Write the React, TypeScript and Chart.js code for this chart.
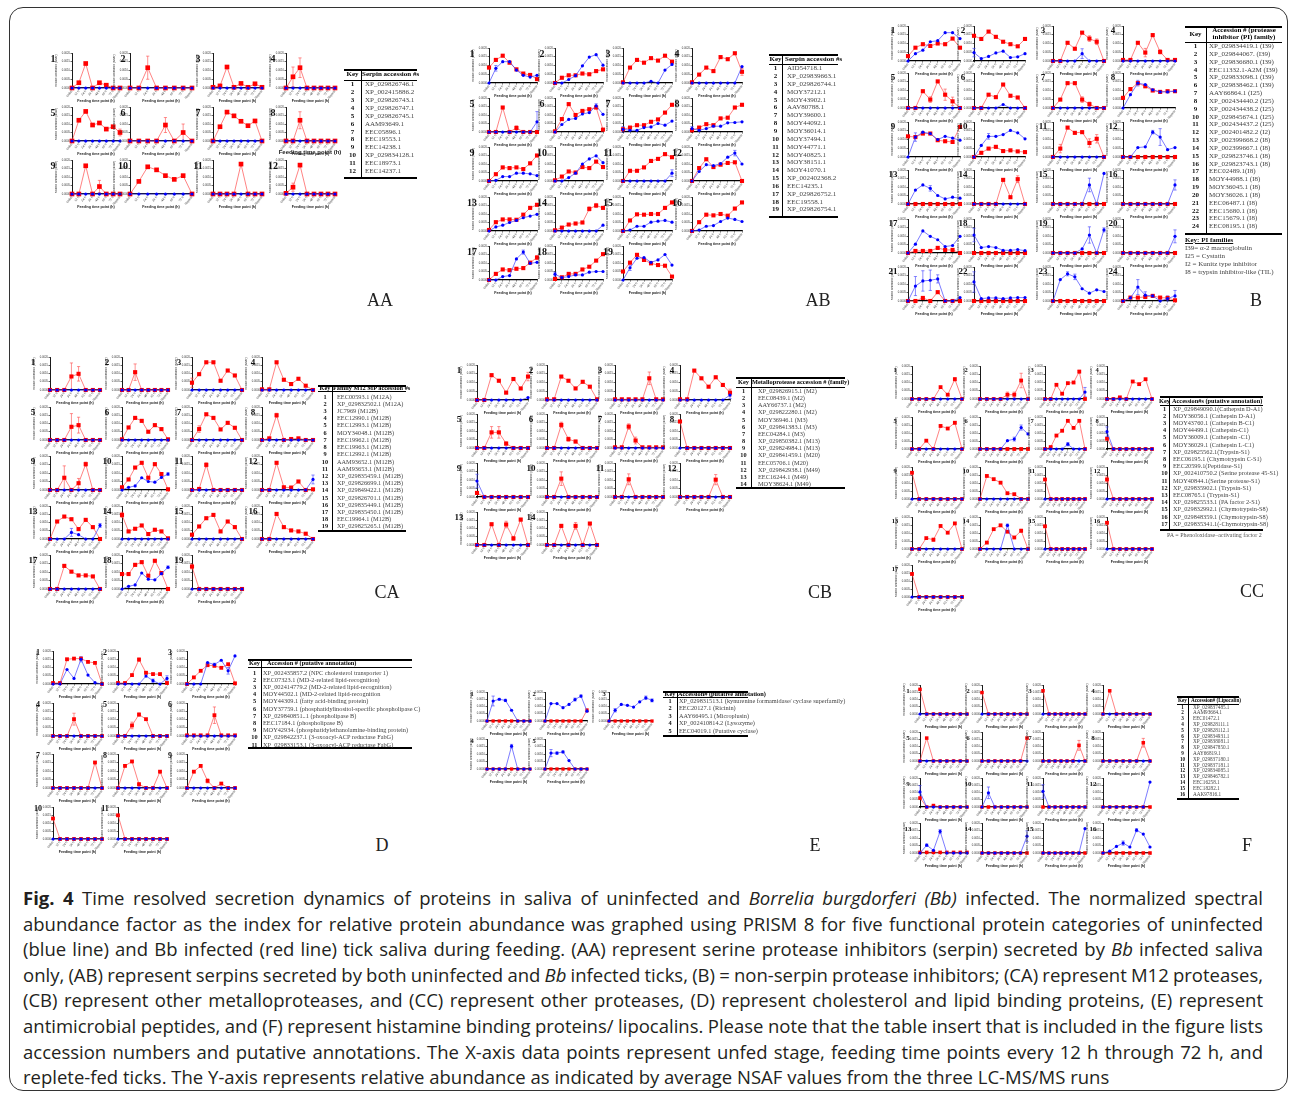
import React, { useEffect, useLayoutEffect, useRef } from "react";
import { Chart, registerables } from "chart.js";
Chart.register(...registerables);

// ---------- shared labels ----------
const TIME_LABELS = ["Unfed", "12 h", "24 h", "36 h", "48 h", "60 h", "72 h", "Replete"];
const Y_TICK_LABELS = ["0.0000", "0.0005", "0.0010", "0.0015", "0.0020"];
const X_TITLE = "Feeding time point (h)";
const Y_TITLE = "Relative abundance (NSAF)";
const Z8 = [0, 0, 0, 0, 0, 0, 0, 0];

// ---------- AA: serpins, Bb infected only ----------
const AA_RED = [
  [0, 1.5, 7.0, 0, 1.5, 0.8, 0, 0],
  [0, 0, 5.8, 0, 0, 0, 0, 0],
  [0.2, 0.6, 6.0, 0.2, 1.3, 0.2, 1.2, 0.2],
  [0, 3.2, 5.8, 0, 0, 0, 0, 0],
  [0, 6.1, 8.7, 4.7, 5.3, 3.5, 4.2, 2.5],
  [0, 0, 0, 0, 4.7, 0, 2.5, 0],
  [0, 4.2, 8.5, 7.4, 5.8, 4.5, 5.9, 0],
  [0, 0, 6.1, 0, 0, 0, 0, 0],
  [0, 0, 8.3, 0, 2.2, 0, 0, 0],
  [0, 3.7, 8.0, 7.1, 5.4, 4.3, 5.4, 0],
  [0, 0, 0, 0, 8.8, 0, 0, 0],
  [0.2, 2.0, 8.5, 0, 0, 0, 0, 0],
];
const AA_BLUE = [Z8, Z8, Z8, Z8, Z8, Z8, Z8, Z8, Z8, Z8, Z8, Z8];
const AA_ERR = [[0, "r", 1, 0.4], [1, "r", 2, 3.3], [3, "r", 1, 2.8], [3, "r", 2, 2.8], [4, "r", 7, 1.0], [5, "r", 4, 2.2], [5, "r", 6, 2.5], [7, "r", 2, 2.5], [8, "r", 4, 1.8], [11, "r", 1, 1.2]];
const AA_ACC = ["XP_029826746.1", "XP_002415886.2", "XP_029826743.1", "XP_029826747.1", "XP_029826745.1", "AAM93649.1", "EEC05896.1", "EEC19553.1", "EEC14238.1", "XP_029834128.1", "EEC18973.1", "EEC14237.1"];

// ---------- AB: serpins, both ----------
const AB_RED = [
  [4.4, 6.6, 7.8, 5.8, 3.9, 2.7, 2.3, 1.1],
  [0, 1.5, 2.2, 2.2, 2.7, 2.5, 3.4, 3.9],
  [0.2, 4.4, 6.6, 5.8, 7.1, 6.4, 7.8, 6.1],
  [0.2, 2.4, 4.4, 3.4, 7.4, 6.8, 8.5, 3.2],
  [0, 0, 7.2, 0, 1.2, 0, 0, 0],
  [0.2, 3.8, 8.2, 5.0, 6.2, 6.7, 7.2, 0.7],
  [0.8, 1.3, 2.0, 2.0, 3.0, 3.7, 5.7, 8.0],
  [0.5, 1.3, 2.3, 2.0, 4.0, 4.2, 7.2, 8.0],
  [0, 2.0, 4.0, 3.8, 4.0, 3.5, 5.2, 7.5],
  [0.2, 1.3, 2.8, 2.5, 4.1, 3.8, 5.7, 4.1],
  [0, 3.0, 3.0, 4.0, 5.9, 6.5, 7.9, 7.0],
  [0, 3.8, 6.4, 4.1, 4.8, 5.3, 5.5, 0],
  [0.3, 2.6, 3.4, 3.4, 3.3, 4.8, 6.8, 7.7],
  [0.2, 1.0, 1.9, 2.2, 2.5, 6.5, 7.5, 6.8],
  [0, 3.1, 4.9, 4.8, 5.0, 5.0, 6.8, 8.4],
  [0, 2.6, 4.8, 4.6, 5.0, 4.5, 6.6, 8.4],
  [0, 1.8, 3.1, 2.9, 3.3, 3.5, 5.1, 6.6],
  [0.3, 0.8, 1.8, 1.8, 3.1, 3.9, 5.7, 7.6],
  [2.5, 5.1, 7.4, 5.9, 4.9, 4.4, 4.2, 1.0],
];
const AB_BLUE = [
  [0, 4.2, 6.1, 6.1, 3.7, 2.2, 1.7, 2.2],
  [0, 0, 1.0, 2.1, 4.9, 7.4, 8.1, 5.1],
  [0, 0, 0, 0, 0.5, 0, 3.7, 5.3],
  [0, 0, 0, 0, 0, 0, 0, 4.7],
  [0, 0, 0, 0, 0, 0, 0, 3.0],
  [0, 2.2, 3.7, 4.0, 5.3, 5.7, 7.7, 5.2],
  [0.8, 0.5, 0.5, 1.3, 1.5, 2.5, 2.0, 3.2],
  [1.0, 0.5, 1.0, 1.7, 1.7, 2.7, 2.8, 3.0],
  [0, 0.2, 1.3, 1.3, 2.3, 2.3, 2.1, 1.6],
  [0, 0, 1.0, 2.3, 5.0, 6.5, 7.4, 5.4],
  [0, 0, 0, 0, 0, 0, 0, 2.3],
  [0, 2.8, 4.8, 4.5, 5.1, 7.0, 8.2, 5.0],
  [0, 1.2, 1.7, 2.5, 3.1, 3.9, 4.4, 4.9],
  [0, 0, 0, 0, 0, 0, 0, 1.7],
  [0, 0.3, 1.4, 1.4, 2.6, 2.9, 3.1, 2.6],
  [0, 0.3, 1.4, 1.6, 2.8, 3.8, 3.4, 2.8],
  [0, 0, 1.0, 1.3, 6.2, 8.2, 4.9, 5.2],
  [1.7, 0.7, 1.0, 1.5, 1.5, 2.3, 2.5, 2.5],
  [0, 3.6, 6.4, 6.6, 5.2, 5.9, 7.5, 4.4],
];
const AB_ERR = [[0, "b", 1, 0.8], [3, "r", 7, 1.0], [4, "b", 7, 3.0], [4, "r", 4, 0.6], [5, "b", 6, 0.6], [6, "b", 0, 0.8], [7, "b", 0, 0.6], [10, "b", 7, 1.0], [11, "b", 6, 0.8], [13, "r", 5, 0.6], [13, "r", 6, 0.6], [16, "b", 5, 0.6], [16, "r", 7, 0.6], [17, "b", 0, 0.6], [18, "b", 1, 0.8]];
const AB_ACC = ["AID54718.1", "XP_029839663.1", "XP_029826744.1", "MOY37212.1", "MOY43902.1", "AAV80788.1", "MOY39600.1", "MOY44092.1", "MOY36014.1", "MOY37494.1", "MOY44771.1", "MOY40825.1", "MOY38151.1", "MOY41070.1", "XP_002402368.2", "EEC14235.1", "XP_029826752.1", "EEC19558.1", "XP_029826754.1"];

// ---------- B: non-serpin protease inhibitors ----------
const B_RED = [
  [1.4, 3.8, 4.8, 4.3, 5.0, 4.8, 6.4, 3.8],
  [7.2, 6.3, 8.4, 6.9, 5.5, 4.8, 4.2, 6.3],
  [0, 0, 5.2, 3.5, 8.1, 6.4, 5.5, 0],
  [0.3, 0.3, 5.2, 2.4, 7.4, 2.6, 0.3, 0.3],
  [0, 0, 4.8, 2.4, 7.6, 3.8, 1.9, 0],
  [0, 0, 3.8, 3.1, 6.7, 3.5, 3.0, 0],
  [0, 2.4, 7.1, 7.1, 2.4, 1.1, 0, 0],
  [2.9, 5.4, 7.1, 6.2, 5.0, 4.6, 4.8, 4.8],
  [5.9, 5.7, 6.7, 6.7, 4.8, 4.5, 4.3, 8.6],
  [0, 1.2, 2.4, 2.9, 1.7, 1.9, 1.6, 1.4],
  [0, 2.4, 8.4, 6.9, 7.1, 4.0, 5.2, 0],
  Z8,
  Z8,
  [0, 0, 0, 0, 7.1, 2.0, 7.3, 0],
  Z8,
  Z8,
  [0, 0.6, 0.6, 0.6, 1.5, 0.9, 0.9, 0],
  Z8,
  Z8,
  Z8,
  [0, 0, 0.9, 0, 2.6, 0, 0, 0],
  Z8,
  Z8,
  [0, 1.0, 1.0, 1.2, 1.5, 1.0, 0.9, 0.2],
];
const B_BLUE = [
  [0, 2.1, 3.1, 5.5, 5.8, 8.1, 8.1, 6.4],
  [2.4, 0.7, 1.3, 2.3, 2.8, 1.0, 1.2, 2.1],
  [0, 0, 0, 0, 2.1, 0, 0, 0],
  Z8,
  Z8,
  [0, 0, 0, 0, 1.0, 0, 0, 0],
  Z8,
  [0, 3.8, 7.1, 6.7, 5.2, 4.6, 4.6, 4.8],
  [0, 5.7, 7.1, 6.7, 5.0, 5.9, 5.4, 4.8],
  [0, 3.3, 5.9, 5.9, 6.4, 7.6, 6.9, 5.2],
  Z8,
  [0, 0, 2.7, 2.9, 7.1, 5.7, 2.1, 2.7],
  [0, 4.1, 5.6, 4.6, 2.5, 1.5, 2.0, 1.7],
  Z8,
  [0, 0, 0, 0, 0, 5.6, 0, 9.0],
  [0, 0, 0, 0, 0, 0, 0, 5.6],
  [0, 2.6, 6.5, 4.9, 3.9, 1.9, 2.2, 4.9],
  [5.3, 1.6, 1.9, 1.6, 0.8, 0.8, 1.0, 0.7],
  [0, 0, 0, 0, 1.2, 5.3, 0, 6.8],
  [0, 0, 0, 0, 0, 0, 0, 4.9],
  [0, 4.4, 5.9, 6.1, 6.5, 0, 0, 1.0],
  [5.6, 0.7, 0.9, 0.9, 0.7, 0.9, 1.0, 1.0],
  [0, 6.3, 8.0, 7.1, 3.6, 2.3, 3.3, 2.8],
  [0, 0.9, 4.1, 1.7, 1.5, 0, 0.7, 1.5],
];
const B_ERR = [[1, "b", 0, 1.2], [2, "b", 4, 1.4], [2, "r", 5, 0.8], [2, "r", 6, 0.8], [3, "r", 3, 1.2], [3, "r", 5, 0.6], [4, "r", 3, 0.8], [4, "r", 5, 1.6], [4, "r", 6, 1.2], [6, "r", 4, 0.8], [6, "r", 5, 0.6], [7, "b", 2, 0.8], [8, "b", 1, 1.2], [9, "b", 2, 0.8], [10, "r", 1, 1.2], [10, "r", 5, 1.2], [10, "r", 6, 1.2], [11, "b", 4, 0.5], [11, "b", 5, 2.4], [12, "b", 3, 0.8], [13, "r", 6, 1.0], [14, "b", 5, 2.0], [15, "b", 7, 1.5], [17, "b", 0, 2.0], [18, "b", 5, 2.4], [18, "b", 7, 0.6], [19, "b", 7, 1.9], [20, "b", 1, 2.8], [20, "b", 2, 3.0], [20, "b", 3, 3.0], [20, "b", 4, 1.2], [21, "b", 0, 3.0], [22, "b", 2, 0.6], [22, "b", 3, 0.8], [23, "b", 2, 2.2], [23, "b", 3, 1.0], [23, "b", 6, 0.8], [23, "b", 7, 1.6]];
const B_ACC = ["XP_029834419.1 (I39)", "XP_029844067. (I39)", "XP_029836680.1 (I39)", "EEC11332.1-A2M (I39)", "XP_029833098.1 (I39)", "XP_029838462.1 (I39)", "AAY66864.1 (I25)", "XP_002434440.2 (I25)", "XP_002434438.2 (I25)", "XP_029845674.1 (I25)", "XP_002434437.2 (I25)", "XP_002401482.2 (I2)", "XP_002399668.2 (I8)", "XP_002399667.1 (I8)", "XP_029823746.1 (I8)", "XP_029823743.1 (I8)", "EEC02489.1(I8)", "MOY44988.1 (I8)", "MOY36045.1 (I8)", "MOY36026.1 (I8)", "EEC06487.1 (I8)", "EEC15680.1 (I8)", "EEC15679.1 (I8)", "EEC08195.1 (I8)"];
const B_FAMILIES = ["I39= α-2 macroglobulin", "I25 = Cystatin", "I2 = Kunitz type inhibitor", "I8 = trypsin inhibitor-like (TIL)"];

// ---------- CA: M12 proteases ----------
const CA_RED = [
  [0, 0, 0, 4.1, 4.9, 0, 0, 0],
  [0, 0, 5.4, 0, 0, 0, 0, 0],
  [2.2, 4.8, 8.4, 8.4, 2.8, 5.9, 4.4, 0],
  [0.2, 0.2, 8.4, 3.1, 1.8, 3.4, 1.3, 0],
  [0, 0, 0, 4.0, 4.5, 0, 0, 0],
  [0.2, 3.8, 6.7, 5.8, 2.5, 4.5, 3.3, 0.2],
  [0, 3.3, 7.8, 6.7, 3.2, 5.2, 3.7, 0],
  [0, 0.5, 7.5, 0, 0.3, 0.5, 0, 0],
  [0, 0, 3.6, 0, 2.0, 7.6, 0, 0],
  [0.8, 3.1, 6.6, 8.0, 3.6, 7.6, 4.7, 0.2],
  [0, 0.3, 7.4, 0, 0, 0, 0, 0],
  [0, 0, 8.0, 0.8, 0.7, 2.5, 0, 0.2],
  [0, 5.3, 6.8, 6.0, 3.0, 5.8, 3.6, 0],
  [7.3, 2.3, 3.1, 4.1, 1.5, 2.8, 2.3, 0.2],
  [1.3, 3.8, 6.3, 7.3, 2.3, 5.3, 3.6, 0],
  [0, 0, 7.6, 3.6, 2.6, 2.3, 1.6, 0],
  [0, 0, 6.8, 5.1, 4.0, 4.0, 3.7, 0],
  [4.4, 4.4, 7.1, 7.9, 3.9, 8.3, 4.7, 0],
  [6.6, 0, 0, 0, 0, 0, 0, 0],
];
const CA_BLUE = [
  Z8, Z8, Z8, Z8, Z8, Z8, Z8, Z8, Z8,
  [0, 0.8, 1.2, 3.6, 2.5, 2.3, 3.7, 4.7],
  Z8,
  [0, 0, 0, 0, 0, 0, 0, 3.1],
  [0, 0, 0, 2.0, 1.3, 0, 0, 4.1],
  Z8, Z8, Z8, Z8,
  [0, 0.8, 1.2, 4.7, 2.9, 2.7, 4.5, 6.4],
  Z8,
];
const CA_ERR = [[0, "r", 3, 4.1], [0, "r", 4, 2.2], [1, "r", 2, 2.5], [2, "r", 0, 1.4], [4, "r", 3, 4.0], [4, "r", 4, 2.4], [6, "r", 1, 1.0], [7, "r", 2, 0.6], [8, "r", 2, 3.5], [8, "r", 4, 1.4], [8, "r", 5, 0.6], [9, "b", 7, 0.4], [10, "r", 2, 0.6], [11, "b", 7, 1.3], [11, "r", 4, 0.4], [12, "b", 3, 1.2], [12, "b", 7, 0.6], [13, "r", 0, 0.8], [17, "b", 7, 0.4], [18, "r", 0, 0.7]];
const CA_ACC = ["EEC00593.1 (M12A)", "XP_029832502.1 (M12A)", "JC7969 (M12B)", "EEC12990.1 (M12B)", "EEC12993.1 (M12B)", "MOY34048.1 (M12B)", "EEC19962.1 (M12B)", "EEC19963.1 (M12B)", "EEC12992.1 (M12B)", "AAM93652.1 (M12B)", "AAM93653.1 (M12B)", "XP_029835459.1 (M12B)", "XP_029826699.1 (M12B)", "XP_029849422.1 (M12B)", "XP_029826701.1 (M12B)", "XP_029835449.1 (M12B)", "XP_029835450.1 (M12B)", "EEC19964.1 (M12B)", "XP_029825265.1 (M12B)"];

// ---------- CB: other metalloproteases ----------
const CB_RED = [
  [0, 0, 7.1, 5.5, 2.1, 6.0, 3.3, 6.7],
  [0.2, 0.2, 6.7, 5.5, 3.3, 5.2, 3.8, 0.2],
  [0.2, 0.2, 0.2, 0.2, 0.2, 6.2, 0.2, 0.2],
  [0.2, 0.2, 8.4, 6.2, 3.8, 6.5, 4.3, 2.1],
  [0, 0, 4.6, 4.6, 1.3, 0, 0, 0],
  [0, 0, 6.8, 2.6, 1.9, 0, 0, 0],
  [0.2, 0.2, 6.3, 2.2, 0.2, 0.2, 0.2, 0.2],
  [7.8, 0, 0, 0, 0, 0, 0, 0],
  [1.2, 0, 0, 0, 0, 0, 0, 0],
  [0, 0, 5.4, 0, 0, 0, 0, 0],
  [0, 0, 5.2, 0, 0, 0, 0, 0],
  [0, 0, 0, 0, 0, 5.1, 0, 0],
  [0, 0, 6.3, 0, 6.2, 2.0, 7.7, 0],
  [0, 0, 5.8, 0, 5.8, 0, 6.5, 0],
];
const CB_BLUE = [
  [0, 0, 0, 0, 0, 0, 0, 0.7],
  Z8, Z8,
  [0, 0, 0, 0, 0, 0, 0, 1.4],
  Z8, Z8, Z8, Z8,
  [4.7, 0, 0, 0, 0, 0, 0, 0],
  Z8, Z8, Z8, Z8, Z8,
];
const CB_ERR = [[0, "r", 7, 1.2], [2, "r", 5, 1.8], [3, "r", 7, 1.0], [3, "b", 7, 1.0], [4, "r", 2, 1.7], [4, "r", 3, 1.7], [4, "r", 4, 0.5], [5, "r", 2, 0.8], [5, "r", 3, 0.6], [5, "r", 4, 0.4], [6, "r", 2, 0.8], [6, "r", 3, 1.0], [8, "b", 0, 2.0], [9, "r", 2, 2.0], [10, "r", 2, 1.6], [11, "r", 5, 1.5], [12, "r", 4, 1.0], [12, "r", 5, 0.6], [12, "r", 6, 0.4], [13, "r", 4, 1.0], [13, "r", 6, 0.3]];
const CB_ACC = ["XP_029826915.1 (M2)", "EEC08439.1 (M2)", "AAY66737.1 (M2)", "XP_029822280.1 (M2)", "MOY36946.1 (M3)", "XP_029841383.1 (M3)", "EEC04284.1 (M3)", "XP_029850382.1 (M13)", "XP_029824984.1 (M13)", "XP_029841459.1 (M20)", "EEC05706.1 (M20)", "XP_029842938.1 (M49)", "EEC16244.1 (M49)", "MOY38624.1 (M49)"];

// ---------- CC: other proteases ----------
const CC_RED = [
  [0, 0, 0, 0, 3.6, 1.3, 6.0, 0],
  [0, 0, 0, 0, 1.3, 1.3, 5.6, 0],
  [0, 0, 4.3, 1.6, 4.8, 5.0, 8.3, 0],
  [0, 0, 0.5, 0, 5.3, 4.5, 6.0, 0],
  [0, 0, 2.6, 0, 7.2, 6.4, 8.2, 0],
  Z8,
  [0, 0.6, 4.2, 5.7, 8.8, 6.6, 8.8, 0],
  [3.2, 0, 0, 0, 0, 0, 0, 0],
  [8.2, 0, 0, 0, 0, 0, 0, 0],
  [0, 7.2, 6.2, 5.1, 1.8, 1.5, 0, 0],
  [6.1, 0, 0, 0, 0, 0, 0, 0],
  [6.1, 0, 0, 0, 0, 0, 0, 0],
  [0, 0, 3.4, 2.9, 7.2, 5.1, 8.0, 0],
  [0, 2.0, 6.2, 7.4, 5.4, 3.6, 5.7, 0],
  [7.1, 0, 0, 0, 0, 0, 0, 0],
  [8.2, 0, 0, 0, 0, 0, 0, 0],
  [7.2, 0, 0, 0, 0, 0, 0, 0],
];
const CC_BLUE = [
  Z8, Z8,
  [0, 0, 0, 0, 0, 0, 0, 2.1],
  Z8, Z8,
  [0, 0, 0, 0, 2.6, 3.1, 6.7, 4.7],
  [0, 0, 0, 0, 1.5, 0, 0, 0],
  [5.4, 0, 0, 0, 0, 0, 0, 0],
  Z8, Z8, Z8, Z8, Z8,
  [0, 0, 0, 0, 7.4, 0, 0, 0],
  Z8, Z8, Z8,
];
const CC_ERR = [[0, "r", 6, 0.5], [1, "r", 4, 0.8], [1, "r", 5, 0.8], [1, "r", 6, 2.2], [2, "b", 7, 1.4], [2, "r", 6, 0.4], [4, "r", 6, 0.4], [5, "b", 5, 0.6], [5, "b", 6, 0.8], [6, "b", 4, 0.5], [7, "b", 0, 1.5], [11, "r", 0, 0.8], [12, "r", 3, 0.5], [13, "b", 4, 0.4], [13, "r", 6, 0.5]];
const CC_ACC = ["XP_029849090.1(Cathepsin D-A1)", "MOY36056.1 (Cathepsin  D-A1)", "MOY43760.1 (Cathepsin B-C1)", "MOY44499.1 (Cathepsin-C1)", "MOY36009.1 (Cathepsin -C1)", "MOY36029.1 (Cathepsin L-C1)", "XP_029825562.1(Trypsin-S1)", "EEC06195.1 (Chymotrypsin C-S1)", "EEC20599.1(Peptidase-S1)", "XP_002410750.2 (Serine protease 45-S1)", "MOY40844.1(Serine protease-S1)", "XP_029835902.1 (Trypsin-S1)", "EEC08765.1 (Trypsin-S1)", "XP_029825533.1 (PA factor 2-S1)", "XP_029832992.1 (Chymotrypsin-S8)", "XP_029848359.1 (Chymotrypsin-S8)", "XP_029835341.1(-Chymotrypsin-S8)"];

// ---------- D: cholesterol / lipid binding ----------
const D_RED = [
  [0.3, 0.3, 7.5, 7.7, 7.7, 6.7, 6.4, 0],
  [0.3, 0.3, 2.7, 7.4, 3.4, 3.0, 3.0, 0.3],
  [0, 2.0, 4.0, 5.7, 5.5, 4.9, 6.0, 0.2],
  [0, 0, 0, 5.1, 0, 0, 0, 0],
  [0, 0, 3.2, 6.5, 5.1, 0, 0, 0],
  [0.2, 0.2, 0.2, 0.2, 6.3, 0.2, 0.2, 0.2],
  [0, 0, 0, 0, 0, 0, 7.5, 0],
  [0, 6.5, 7.8, 1.1, 0, 0, 4.8, 0],
  [0, 4.8, 6.5, 2.1, 0, 1.3, 0, 0],
  [6.4, 0, 0, 0, 0, 0, 0, 0],
  [7.4, 0, 0, 0, 0, 0, 0, 0],
];
const D_BLUE = [
  [0, 0, 4.4, 1.7, 7.5, 2.7, 0.4, 0],
  [0, 0, 0, 0, 2.4, 1.0, 0, 1.7],
  [0, 0, 0, 6.5, 5.9, 7.2, 4.0, 8.5],
  Z8, Z8, Z8, Z8, Z8, Z8, Z8, Z8,
];
const D_ERR = [[0, "b", 4, 0.8], [1, "r", 3, 0.5], [1, "r", 4, 0.4], [1, "b", 5, 0.5], [1, "b", 7, 0.8], [2, "b", 4, 0.4], [2, "b", 6, 1.0], [3, "r", 3, 1.8], [4, "r", 2, 1.0], [4, "r", 3, 0.5], [5, "r", 4, 2.5], [7, "r", 3, 0.5], [8, "r", 3, 0.6]];
const D_ACC = ["XP_002435857.2 (NPC cholesterol transporter 1)", "EEC07323.1 (MD-2-related lipid-recognition)", "XP_002414779.2 (MD-2-related lipid-recognition)", "MOY44502.1 (MD-2-related lipid-recognition", "MOY44309.1 (fatty acid-binding protein)", "MOY37759.1 (phosphatidylinositol-specific phospholipase C)", "XP_029840851..1 (phospholipase B)", "EEC17184.1 (phospholipase B)", "MOY42934. (phosphatidylethanolamine-binding protein)", "XP_029842237.1 (3-oxoacyl-ACP reductase FabG)", "XP_029833153.1 (3-oxoacyl-ACP reductase FabG)"];

// ---------- E: antimicrobial peptides ----------
const E_RED = [Z8, [0, 0, 0, 0, 0, 0, 0, 3.7], Z8, Z8, Z8];
const E_BLUE = [
  [0, 6.9, 7.5, 7.1, 3.7, 0, 0, 0],
  [0, 6.0, 6.0, 4.6, 5.7, 7.4, 8.6, 3.4],
  [0, 3.7, 5.7, 5.4, 4.8, 6.6, 8.0, 7.1],
  [0, 0, 0, 0, 7.6, 0, 0, 0],
  [0, 5.3, 5.3, 5.7, 2.8, 0, 0, 0],
];
const E_ERR = [[0, "b", 1, 1.7], [0, "b", 2, 0.3], [0, "b", 3, 0.4], [1, "b", 5, 0.5], [1, "b", 6, 0.4], [1, "r", 7, 0.6], [2, "b", 1, 0.6], [2, "b", 6, 0.6], [2, "b", 7, 0.5], [3, "b", 4, 0.6], [4, "b", 1, 1.2], [4, "b", 2, 0.4], [4, "b", 3, 0.3]];
const E_ACC = ["XP_029831513.1 (kynurenine formamidase/ cyclase superfamily)", "EEC20127.1 (Ricinin)", "AAY66495.1 (Microplusin)", "XP_002410814.2 (Lysozyme)", "EEC04019.1 (Putative cyclase)"];

// ---------- F: lipocalins ----------
const F_RED = [
  [8.5, 0, 0, 0, 0, 0, 0, 0],
  [7.4, 0, 0, 0, 0, 0, 0, 0],
  [8.0, 0, 0, 0, 0, 0, 0, 0],
  [0, 8.0, 0, 0, 0, 0, 0, 0],
  [0, 7.9, 0, 0, 0, 0, 0, 0],
  [0, 0, 0, 0, 0, 0, 0, 7.9],
  [0, 0, 0, 0, 0, 0, 5.4, 0],
  [0, 0, 0, 0, 0, 0, 6.3, 0],
  [3.1, 0, 0.5, 0, 0, 0, 0, 0],
  Z8, Z8, Z8,
  [0.2, 0.2, 0.2, 0.2, 0.2, 0.2, 0.2, 0.2],
  Z8, Z8, Z8,
];
const F_BLUE = [
  Z8, Z8, Z8, Z8, Z8, Z8, Z8, Z8,
  [5.2, 0, 0, 0, 0, 0, 0, 0],
  [0, 4.9, 0, 0, 0, 0, 0, 0],
  [5.4, 0, 0, 0, 0, 0, 0, 0],
  [0, 0, 0, 0, 0, 0, 0, 8.6],
  [0, 2.6, 0.9, 7.2, 0, 0, 0, 0],
  [0, 0, 0, 0, 0, 0, 0, 5.6],
  [0, 0, 0, 0, 0, 0, 0, 8.1],
  [0, 0.6, 2.2, 3.3, 2.0, 7.6, 6.3, 2.0],
];
const F_ERR = [[6, "r", 6, 1.7], [7, "r", 6, 1.5], [8, "b", 0, 2.2], [9, "b", 1, 2.0], [10, "b", 0, 2.3], [12, "b", 1, 0.4], [12, "b", 3, 0.6], [13, "b", 7, 1.8], [15, "b", 3, 0.7], [15, "b", 5, 0.5]];
const F_ACC = ["XP_029837485.1", "AAM93664.1", "EEC01472.1", "XP_029828111.1", "XP_029828112.1", "XP_029834931.1", "XP_029838081.1", "XP_029847850.1", "AAY66819.1", "XP_029837180.1", "XP_029837181.1", "XP_029834085.1", "XP_029846782.1", "EEC16258.1", "EEC18282.1", "AAK97816.1"];

// ---------- caption ----------
const CAPTION = [
  [["Fig. 4", "b"], [" Time resolved secretion dynamics of proteins in saliva of uninfected and ", ""], ["Borrelia burgdorferi (Bb)", "i"], [" infected. The normalized spectral", ""]],
  [["abundance factor as the index for relative protein abundance was graphed using PRISM 8 for five functional protein categories of uninfected", ""]],
  [["(blue line) and Bb infected (red line) tick saliva during feeding. (AA) represent serine protease inhibitors (serpin) secreted by ", ""], ["Bb", "i"], [" infected saliva", ""]],
  [["only, (AB) represent serpins secreted by both uninfected and ", ""], ["Bb", "i"], [" infected ticks, (B) = non-serpin protease inhibitors; (CA) represent M12 proteases,", ""]],
  [["(CB) represent other metalloproteases, and (CC) represent other proteases, (D) represent cholesterol and lipid binding proteins, (E) represent", ""]],
  [["antimicrobial peptides, and (F) represent histamine binding proteins/ lipocalins. Please note that the table insert that is included in the figure lists", ""]],
  [["accession numbers and putative annotations. The X-axis data points represent unfed stage, feeding time points every 12 h through 72 h, and", ""]],
  [["replete-fed ticks. The Y-axis represents relative abundance as indicated by average NSAF values from the three LC-MS/MS runs", ""]],
];

// ---------- layout (positions only) ----------
const GROUPS = [
  { id: "AA", red: AA_RED, blue: AA_BLUE, err: AA_ERR, cols: 4, axisX: [72, 130, 213, 286], rightX: [120, 192, 262, 335], top: [53, 107, 160], bottom: [88, 141, 194], numX: [53, 123, 198, 273], numDy: 6, numSize: 10, redR: 3.3 },
  { id: "AB", red: AB_RED, blue: AB_BLUE, err: AB_ERR, cols: 4, axisX: [489, 555, 623, 692], rightX: [537, 603, 672, 742], top: [48, 98, 147, 197, 246], bottom: [83, 132, 181, 231, 280], numX: [472, 542, 608, 677], numDy: 6, numSize: 10, redR: 2.9 },
  { id: "B", red: B_RED, blue: B_BLUE, err: B_ERR, cols: 4, axisX: [908, 974, 1053, 1123], rightX: [960, 1025, 1104, 1175], top: [26, 73, 122, 170, 219, 267], bottom: [61, 108, 157, 204, 253, 301], numX: [893, 963, 1043, 1113], numDy: 4, numSize: 9, redR: 2.9 },
  { id: "CA", red: CA_RED, blue: CA_BLUE, err: CA_ERR, cols: 4, axisX: [50, 122, 192, 262], rightX: [100, 168, 242, 313], top: [357, 407, 456, 506, 555], bottom: [390, 440, 490, 539, 589], numX: [33, 107, 179, 253], numDy: 5, numSize: 9, redR: 2.9 },
  { id: "CB", red: CB_RED, blue: CB_BLUE, err: CB_ERR, cols: 4, axisX: [477, 547, 615, 680], rightX: [528, 597, 663, 730], top: [365, 414, 463, 512], bottom: [400, 448, 497, 545], numX: [459, 531, 600, 672], numDy: 5, numSize: 9, redR: 2.9 },
  { id: "CC", red: CC_RED, blue: CC_BLUE, err: CC_ERR, cols: 4, axisX: [912, 980, 1045, 1107], rightX: [962, 1028, 1085, 1152], top: [366, 417, 467, 517, 565], bottom: [399, 449, 499, 549, 597], numX: [895, 966, 1032, 1097], numDy: 4, numSize: 6.5, redR: 2.7 },
  { id: "D", red: D_RED, blue: D_BLUE, err: D_ERR, cols: 3, axisX: [53, 118, 187], rightX: [102, 167, 235], top: [651, 703, 754, 807], bottom: [684, 736, 788, 839], numX: [38, 105, 170], numDy: 2, numSize: 8, redR: 2.7 },
  { id: "E", red: E_RED, blue: E_BLUE, err: E_ERR, cols: 3, axisX: [487, 545, 609], rightX: [530, 587, 652], top: [692, 739], bottom: [721, 769], numX: [472, 534, 604], numDy: 2, numSize: 6.5, redR: 2.3 },
  { id: "F", red: F_RED, blue: F_BLUE, err: F_ERR, cols: 4, axisX: [920, 982, 1043, 1103], rightX: [967, 1027, 1085, 1150], top: [685, 732, 778, 823], bottom: [714, 761, 807, 853], numX: [908, 968, 1030, 1093], numDy: 6, numSize: 7, redR: 2.5 },
];

const TABLES = [
  { rows: AA_ACC, x: 344, right: 417, divX: 361, topY: 70, headY: 80, rowY0: 85, rowH: 7.9, bottomY: 178, fs: 7, head: ["Serpin accession #s"], headX: 362, entryX: 365 },
  { rows: AB_ACC, x: 769, right: 838, divX: 782, topY: 55, headY: 64, rowY0: 69, rowH: 7.85, bottomY: 217, fs: 7, head: ["Serpin accession #s"], headX: 785, entryX: 787 },
  { rows: B_ACC, x: 1185, right: 1282, divX: 1206, topY: 27, headY: 42, rowY0: 47, rowH: 7.83, bottomY: 234, fs: 7, head: ["Accession # (protease", "inhibitor (PI) family)"], headX: 1244, headCenter: true, entryX: 1209 },
  { rows: CA_ACC, x: 318, right: 406, divX: 332, topY: 386, headY: 391.5, rowY0: 397, rowH: 7.22, bottomY: 531, fs: 6.3, head: ["Family M12 MP accession #s"], headX: 333, entryX: 337 },
  { rows: CB_ACC, x: 736, right: 845, divX: 751, topY: 378, headY: 387, rowY0: 391.5, rowH: 7.15, bottomY: 488, fs: 6.3, head: ["Metalloprotease accession # (family)"], headX: 752, entryX: 758 },
  { rows: CC_ACC, x: 1160, right: 1263, divX: 1169, topY: 397, headY: 405, rowY0: 409, rowH: 7.2, bottomY: 530, fs: 6.3, head: ["Accession#s (putative annotation)"], headX: 1172, entryX: 1173 },
  { rows: D_ACC, x: 248, right: 412, divX: 261, topY: 660, headY: 667, rowY0: 673, rowH: 7.2, bottomY: 748, fs: 6.3, head: ["Accession # (putative annotation)"], headX: 267, entryX: 263 },
  { rows: E_ACC, x: 663, right: 748, divX: 677, topY: 692, headY: 697, rowY0: 701, rowH: 7.5, bottomY: 736, fs: 6.3, head: ["Accession# (putative annotation)"], headX: 678, entryX: 679 },
  { rows: F_ACC, x: 1177, right: 1239, divX: 1188, topY: 697, headY: 704, rowY0: 707.5, rowH: 5.8, bottomY: 799, fs: 5.2, head: ["Accession# (Lipocalin)"], headX: 1191, entryX: 1193 },
];

const LETTERS = [["AA", 380, 300], ["AB", 818, 300], ["B", 1256, 300], ["CA", 387, 592], ["CB", 820, 592], ["CC", 1252, 591], ["D", 382, 845], ["E", 815, 845], ["F", 1247, 845]];

const RED_LINE = "rgba(255,70,70,0.75)";
const BLUE_LINE = "rgba(60,60,255,0.75)";
const SERIF = "'Liberation Serif', 'Times New Roman', serif";
const SANS = "'Liberation Sans', Arial, sans-serif";
const CAP_LEFT = 23;
const CAP_W = 1240;

const errorBarPlugin = {
  id: "errbars",
  beforeDatasetsDraw(chart: any, _args: any, opts: any) {
    const list = (opts && opts.list) || [];
    const ctx = chart.ctx;
    const ys = chart.scales.y;
    ctx.save();
    for (const [s, i, d] of list) {
      const dsIdx = s === "b" ? 0 : 1;
      const meta = chart.getDatasetMeta(dsIdx);
      const pt = meta.data[i];
      if (!pt) continue;
      const v = chart.data.datasets[dsIdx].data[i];
      const y1 = ys.getPixelForValue(v + d);
      const y2 = ys.getPixelForValue(Math.max(0, v - d));
      ctx.strokeStyle = s === "b" ? BLUE_LINE : RED_LINE;
      ctx.lineWidth = 0.8;
      ctx.beginPath();
      ctx.moveTo(pt.x, y1); ctx.lineTo(pt.x, y2);
      ctx.moveTo(pt.x - 1.6, y1); ctx.lineTo(pt.x + 1.6, y1);
      ctx.moveTo(pt.x - 1.6, y2); ctx.lineTo(pt.x + 1.6, y2);
      ctx.stroke();
    }
    ctx.restore();
  },
};

const YW = 17, XH = 15, PT = 3, PR = 3;

function MiniChart({ axisX, right, top, bottom, red, blue, errs, redR }: any) {
  const ref = useRef<HTMLCanvasElement>(null);
  const w = Math.round(right - axisX + YW + PR);
  const h = Math.round(bottom - top + PT + XH);
  useEffect(() => {
    if (!ref.current) return;
    const chart = new Chart(ref.current, {
      type: "line",
      data: {
        labels: TIME_LABELS,
        datasets: [
          { data: blue, borderColor: BLUE_LINE, borderWidth: 0.9, pointStyle: "circle", pointRadius: 1.6, pointBackgroundColor: "#0000ff", pointBorderColor: "#0000ff", pointBorderWidth: 0, order: 0, clip: false, tension: 0 } as any,
          { data: red, borderColor: RED_LINE, borderWidth: 0.9, pointStyle: "rect", pointRadius: redR, pointBackgroundColor: "#ff0000", pointBorderColor: "#ff0000", pointBorderWidth: 0, order: 1, clip: false, tension: 0 } as any,
        ],
      },
      plugins: [errorBarPlugin as any],
      options: {
        responsive: false,
        animation: false,
        devicePixelRatio: 1,
        events: [],
        layout: { padding: { top: PT, right: PR, left: 0, bottom: 0 }, autoPadding: false } as any,
        plugins: { legend: { display: false }, tooltip: { enabled: false }, errbars: { list: errs } } as any,
        scales: {
          x: {
            type: "category",
            offset: false,
            grid: { drawOnChartArea: false, drawTicks: true, tickLength: 1.5, color: "#000", lineWidth: 0.6 },
            border: { display: true, color: "#000", width: 1.3 },
            ticks: { font: { size: 3, family: SANS }, color: "#333", minRotation: 50, maxRotation: 50, autoSkip: false, padding: 0 },
            title: { display: true, text: X_TITLE, font: { size: 3.6, weight: "bold", family: SANS }, color: "#222", padding: 0 },
            afterFit: (s: any) => { s.height = XH; },
          } as any,
          y: {
            min: 0,
            max: 10,
            grid: { drawOnChartArea: false, drawTicks: true, tickLength: 1.5, color: "#000", lineWidth: 0.6 },
            border: { display: true, color: "#000", width: 0.9 },
            ticks: { stepSize: 2.5, font: { size: 2.7, family: SANS }, color: "#333", padding: 0.5, callback: (_v: any, i: number) => Y_TICK_LABELS[i] ?? "" },
            title: { display: true, text: Y_TITLE, font: { size: 2.6, family: SANS }, color: "#333", padding: 0 },
            afterFit: (s: any) => { s.width = YW; },
          } as any,
        },
      },
    });
    return () => chart.destroy();
  }, []);
  return <canvas ref={ref} width={w} height={h} style={{ position: "absolute", left: axisX - YW, top: top - PT, width: w, height: h }} />;
}

function Group({ g }: any) {
  const items: any[] = [];
  g.red.forEach((red: number[], i: number) => {
    const c = i % g.cols, r = Math.floor(i / g.cols);
    const errs = g.err.filter((e: any) => e[0] === i).map((e: any) => [e[1], e[2], e[3]]);
    items.push(
      <MiniChart key={g.id + i} axisX={g.axisX[c]} right={g.rightX[c]} top={g.top[r]} bottom={g.bottom[r]} red={red} blue={g.blue[i]} errs={errs} redR={g.redR} />
    );
    items.push(
      <div key={g.id + "n" + i} style={{ position: "absolute", left: g.numX[c], top: g.top[r] + g.numDy, transform: "translate(-50%,-50%)", fontFamily: SERIF, fontWeight: "bold", fontSize: g.numSize, lineHeight: 1, color: "#111" }}>{i + 1}</div>
    );
  });
  return <>{items}</>;
}

function KeyTable({ t }: any) {
  const lineStyle = (y: number, wdt: number) => ({ position: "absolute" as const, left: t.x, top: y - wdt / 2, width: t.right - t.x, height: wdt, background: "#000" });
  const text = (cx: number, cy: number, s: string, extra: any, key: string) => (
    <div key={key} style={{ position: "absolute", left: cx, top: cy - t.fs * 0.55, fontSize: t.fs, lineHeight: 1.1, fontFamily: SERIF, whiteSpace: "nowrap", ...extra }}>{s}</div>
  );
  const headMid = (t.topY + t.headY) / 2;
  const nH = t.head.length;
  return (
    <>
      <div style={lineStyle(t.topY, 1.3)} />
      <div style={lineStyle(t.headY, 1)} />
      <div style={lineStyle(t.bottomY, 1.3)} />
      <div style={{ position: "absolute", left: t.divX, top: t.topY, width: 1, height: t.bottomY - t.topY, background: "#000" }} />
      {text((t.x + t.divX) / 2, headMid, "Key", { fontWeight: "bold", color: "#000", transform: "translateX(-50%)" }, "k")}
      {t.head.map((s: string, i: number) =>
        text(t.headX, headMid + (i - (nH - 1) / 2) * t.fs * 1.05, s, { fontWeight: "bold", color: "#000", transform: t.headCenter ? "translateX(-50%)" : undefined }, "h" + i)
      )}
      {t.rows.map((s: string, i: number) => (
        <React.Fragment key={"r" + i}>
          {text((t.x + t.divX) / 2, t.rowY0 + i * t.rowH, String(i + 1), { fontWeight: "bold", color: "#111", transform: "translateX(-50%)" }, "rk" + i)}
          {text(t.entryX, t.rowY0 + i * t.rowH, s, { color: "#444" }, "rv" + i)}
        </React.Fragment>
      ))}
    </>
  );
}

function CaptionLine({ line, idx, last }: any) {
  const ref = useRef<HTMLDivElement>(null);
  useLayoutEffect(() => {
    const el = ref.current;
    if (!el || last) return;
    const fit = () => {
      el.style.wordSpacing = "0px";
      const w = el.getBoundingClientRect().width;
      const n = ((el.textContent || "").match(/ /g) || []).length;
      if (n > 0) el.style.wordSpacing = (CAP_W - w) / n + "px";
    };
    fit();
    const f: any = (document as any).fonts;
    if (f && f.ready) f.ready.then(fit);
  }, []);
  return (
    <div ref={ref} style={{ position: "absolute", left: CAP_LEFT, top: 885 + idx * 25.6, whiteSpace: "nowrap", fontFamily: "'Open Sans', sans-serif", fontSize: 18.5, lineHeight: "25.6px", color: "#231f20" }}>
      {line.map(([s, st]: any, j: number) => (
        <span key={j} style={{ fontWeight: st === "b" ? "bold" : "normal", fontStyle: st === "i" ? "italic" : "normal" }}>{s}</span>
      ))}
    </div>
  );
}

export default function App() {
  return (
    <div style={{ position: "absolute", left: 0, top: 0, width: 1295, height: 1096, background: "#fff", overflow: "hidden" }}>
      <div style={{ position: "absolute", left: 9, top: 7, width: 1279, height: 1084, border: "1.5px solid #333", borderRadius: 14, boxSizing: "border-box" }} />
      {GROUPS.map((g) => <Group key={g.id} g={g} />)}
      {TABLES.map((t, i) => <KeyTable key={"t" + i} t={t} />)}
      <div style={{ position: "absolute", left: 310, top: 152, transform: "translate(-50%,-50%)", fontFamily: SANS, fontWeight: "bold", fontSize: 6, color: "#222", whiteSpace: "nowrap" }}>{X_TITLE}</div>
      <div style={{ position: "absolute", left: 1185, top: 236, fontFamily: SERIF, fontSize: 7, fontWeight: "bold", textDecoration: "underline", color: "#111", whiteSpace: "nowrap" }}>Key: PI families</div>
      {B_FAMILIES.map((s, i) => (
        <div key={"pf" + i} style={{ position: "absolute", left: 1185, top: 244 + i * 8, fontFamily: SERIF, fontSize: 7, color: "#444", whiteSpace: "nowrap" }}>{s}</div>
      ))}
      <div style={{ position: "absolute", left: 1167, top: 532, fontFamily: SERIF, fontSize: 6, color: "#555", whiteSpace: "nowrap" }}>PA = Phenoloxidase–activating factor 2</div>
      {LETTERS.map(([s, x, y]) => (
        <div key={s as string} style={{ position: "absolute", left: x as number, top: y as number, transform: "translate(-50%,-50%)", fontFamily: SERIF, fontSize: 18, lineHeight: 1, color: "#222" }}>{s}</div>
      ))}
      {CAPTION.map((line, i) => (
        <CaptionLine key={"c" + i} line={line} idx={i} last={i === CAPTION.length - 1} />
      ))}
    </div>
  );
}
